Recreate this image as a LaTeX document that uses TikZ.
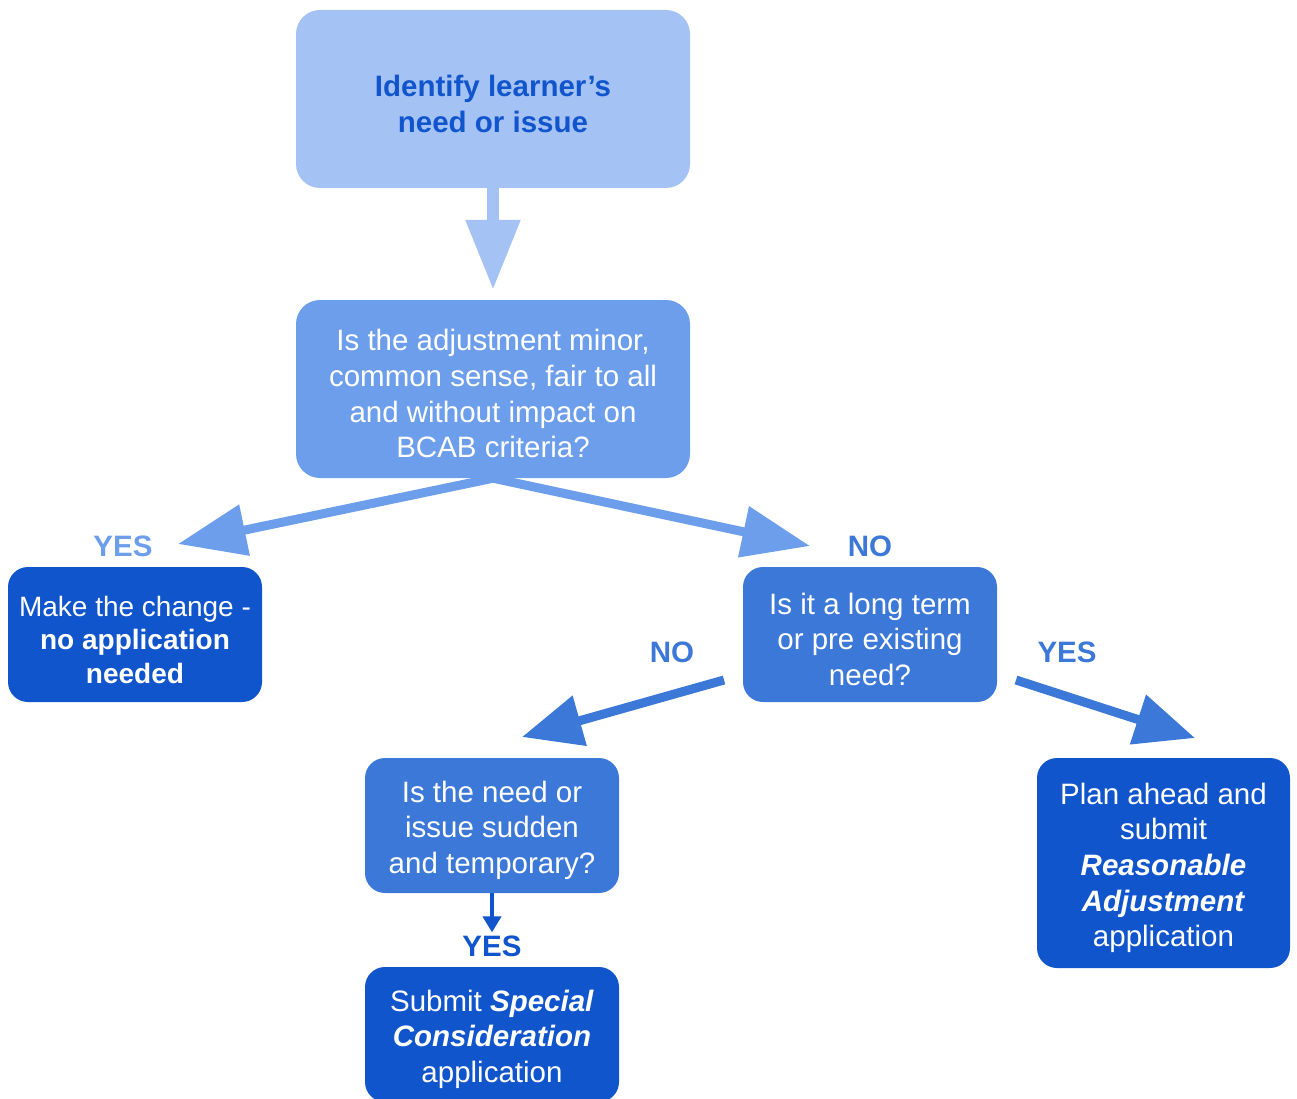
\documentclass[tikz,border=0pt]{standalone}
\usepackage{fontspec}
\setmainfont{Liberation Sans}
\usetikzlibrary{arrows.meta,positioning}
\definecolor{Pale}{HTML}{A4C2F4}
\definecolor{Mid}{HTML}{6D9EEB}
\definecolor{Cobalt}{HTML}{3C78D8}
\definecolor{Deep}{HTML}{1155CC}
\newcommand{\boxfont}{\fontsize{29.5}{35.7}\selectfont}
\newcommand{\topgap}{\rule{0pt}{31pt}}

\begin{document}
\begin{tikzpicture}[x=1pt,y=-1pt,
  box/.style={rectangle,rounded corners=24pt,align=center,inner sep=0pt,font=\boxfont,text=white},
  bigbox/.style={box,minimum width=394pt,minimum height=178pt},
  smallbox/.style={box,minimum width=254pt,minimum height=135pt,rounded corners=20pt},
  answer/.style={font=\boxfont\bfseries,inner sep=0pt},
  fat/.style={line width=9pt,-{Triangle[length=68pt,width=50pt]}}]
\useasboundingbox (0,0) rectangle (1297,1099);

% boxes
\node[bigbox,fill=Pale,text=Deep,font=\boxfont\bfseries] (idea) at (493,99) {\topgap Identify learner's\\need or issue};
\node[bigbox,fill=Mid] (adj) at (493,389) {\topgap Is the adjustment minor,\\common sense, fair to all\\and without impact on\\BCAB criteria?};
\node[smallbox,fill=Deep,font=\fontsize{28}{33.6}\selectfont] (make) at (135,634.5) {\topgap Make the change -\\\textbf{no application}\\\textbf{needed}};
\node[smallbox,fill=Cobalt] (long) at (870,634.5) {\topgap Is it a long term\\or pre existing\\need?};
\node[smallbox,fill=Cobalt] (sudden) at (492,825.5) {\topgap Is the need or\\issue sudden\\and temporary?};
\node[smallbox,fill=Deep] (special) at (492,1034.5) {\topgap Submit \textbf{\textit{Special}}\\\textbf{\textit{Consideration}}\\application};
\node[smallbox,fill=Deep,minimum width=253pt,minimum height=210pt] (plan) at (1163.5,863) {\topgap Plan ahead and\\submit\\\textbf{\textit{Reasonable}}\\\textbf{\textit{Adjustment}}\\application};

% answers
\node[answer,text=Mid] (yesMake) at (123,546) {YES};
\node[answer,text=Cobalt] (noLong) at (870,546) {NO};
\node[answer,text=Cobalt] (noSudden) at (672,652) {NO};
\node[answer,text=Cobalt] (yesPlan) at (1067,652) {YES};
\node[answer,text=Deep] (yesSpecial) at (492,946) {YES};

% arrow ends
\coordinate (makeTip) at (178,544);
\coordinate (longTip) at (810,546);
\coordinate (noStart) at (724,680);
\coordinate (suddenTip) at (522,737);
\coordinate (yesStart) at (1016,680);
\coordinate (planTip) at (1195,738);

% connectors
\draw[Pale,line width=12pt,-{Triangle[length=70pt,width=52pt]}] (idea.south) -- ([yshift=10pt]adj.north);
\draw[fat,Mid] (adj.south) -- (makeTip);
\draw[fat,Mid] (adj.south) -- (longTip);
\draw[fat,Cobalt,-{Triangle[length=60pt,width=50pt]}] (noStart) -- (suddenTip);
\draw[fat,Cobalt,-{Triangle[length=60pt,width=50pt]}] (yesStart) -- (planTip);
\draw[Deep,line width=4pt,-{Triangle[length=16pt,width=18pt]}] (sudden.south) -- ([yshift=3pt]yesSpecial.north);
\end{tikzpicture}
\end{document}
